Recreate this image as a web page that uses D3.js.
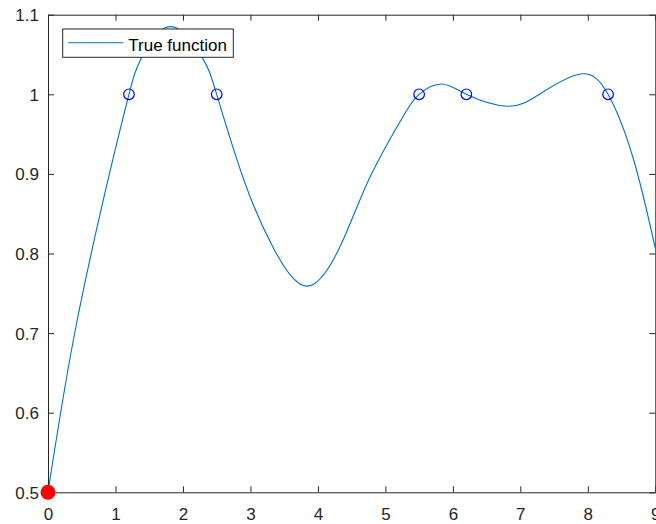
<!DOCTYPE html>
<html>
<head>
<meta charset="utf-8">
<script src="https://cdn.jsdelivr.net/npm/d3@7"></script>
<style>
  html, body { margin: 0; padding: 0; background: #fff; }
  svg { display: block; font-family: "Liberation Sans", Arial, Helvetica, sans-serif; }
</style>
</head>
<body>
<svg id="chart" width="656" height="524"></svg>
<script>
// Sampled points of the true function
const curveX = [0, 0.4, 0.91, 1.2, 1.39, 1.82, 2.28, 2.5, 2.9, 3.34, 3.84, 4.33, 4.75, 5.22, 5.5, 5.84, 6.2,
                6.81, 7.3, 7.89, 8.3, 8.68, 9.0];
const curveY = [0.5, 0.702, 0.9, 1.0, 1.047, 1.085, 1.047, 1.0, 0.893, 0.807, 0.759, 0.809, 0.892, 0.966, 1.0, 1.013, 1.0,
                0.985, 1.001, 1.0255, 1.0, 0.9175, 0.8065];

// Observed samples (open circles) and the starting point (red dot)
const sampleX = [1.2, 2.5, 5.5, 6.2, 8.3];
const sampleY = [1, 1, 1, 1, 1];
const startX = [0];
const startY = [0.5];

// Axis ticks
const xTicks = [0, 1, 2, 3, 4, 5, 6, 7, 8, 9];
const yTicks = [0.5, 0.6, 0.7, 0.8, 0.9, 1, 1.1];
const legendLabel = "True function";

const svg = d3.select("#chart");
const plotLeft = 48, plotRight = 655.3, plotTop = 14.7, plotBottom = 492.3;
const axisColor = "#262626";

const x = d3.scaleLinear().domain([0, 9]).range([plotLeft, plotRight]);
const y = d3.scaleLinear().domain([0.5, 1.1]).range([plotBottom, plotTop]);

const fmt = d => String(+d.toFixed(1));

function styleAxis(g) {
  g.select(".domain").attr("stroke", axisColor).attr("stroke-width", 1);
  g.selectAll(".tick line").attr("stroke", axisColor).attr("stroke-width", 1);
  g.selectAll(".tick text").attr("fill", axisColor).attr("font-size", 17)
    .attr("font-family", "'Liberation Sans', Arial, Helvetica, sans-serif");
}

// Bottom axis with labels, ticks pointing inward
svg.append("g")
  .attr("transform", `translate(0,${plotBottom})`)
  .call(d3.axisBottom(x).tickValues(xTicks).tickFormat(fmt).tickSizeInner(-6).tickSizeOuter(0).tickPadding(15.5))
  .call(styleAxis);

// Left axis with labels
svg.append("g")
  .attr("transform", `translate(${plotLeft},0)`)
  .call(d3.axisLeft(y).tickValues(yTicks).tickFormat(fmt).tickSizeInner(-6).tickSizeOuter(0).tickPadding(9))
  .call(styleAxis)
  .call(g => g.selectAll(".tick text").attr("dy", "0.35em"));

// Top and right box edges with inward ticks
svg.append("g")
  .attr("transform", `translate(0,${plotTop})`)
  .call(d3.axisTop(x).tickValues(xTicks).tickFormat("").tickSizeInner(-6).tickSizeOuter(0))
  .call(styleAxis);

svg.append("g")
  .attr("transform", `translate(${plotRight},0)`)
  .call(d3.axisRight(y).tickValues(yTicks).tickFormat("").tickSizeInner(-6).tickSizeOuter(0))
  .call(styleAxis);

// True function curve
const pts = curveX.map((v, i) => [v, curveY[i]]);
const line = d3.line()
  .x(d => x(d[0]))
  .y(d => y(d[1]))
  .curve(d3.curveNatural);

svg.append("path")
  .datum(pts)
  .attr("d", line)
  .attr("fill", "none")
  .attr("stroke", "#0072BD")
  .attr("stroke-width", 1.1);

// Open circles at the sample points
svg.append("g")
  .selectAll("circle")
  .data(sampleX.map((v, i) => [v, sampleY[i]]))
  .join("circle")
  .attr("cx", d => x(d[0]))
  .attr("cy", d => y(d[1]))
  .attr("r", 5.3)
  .attr("fill", "none")
  .attr("stroke", "#0000FF")
  .attr("stroke-width", 1.2);

// Starting point
svg.append("g")
  .selectAll("circle")
  .data(startX.map((v, i) => [v, startY[i]]))
  .join("circle")
  .attr("cx", d => x(d[0]))
  .attr("cy", d => y(d[1]))
  .attr("r", 7.5)
  .attr("fill", "#FF0000");

// Legend
const lg = svg.append("g").attr("transform", "translate(62.7,29)");
lg.append("rect")
  .attr("width", 170.6).attr("height", 28.3)
  .attr("fill", "#fff").attr("stroke", axisColor).attr("stroke-width", 1);
lg.append("line")
  .attr("x1", 5.6).attr("x2", 60.6).attr("y1", 13.7).attr("y2", 13.7)
  .attr("stroke", "#0072BD").attr("stroke-width", 1.1);
lg.append("text")
  .attr("x", 65.6).attr("y", 21.7)
  .attr("font-size", 17).attr("fill", "#000")
  .text(legendLabel);
</script>
</body>
</html>
